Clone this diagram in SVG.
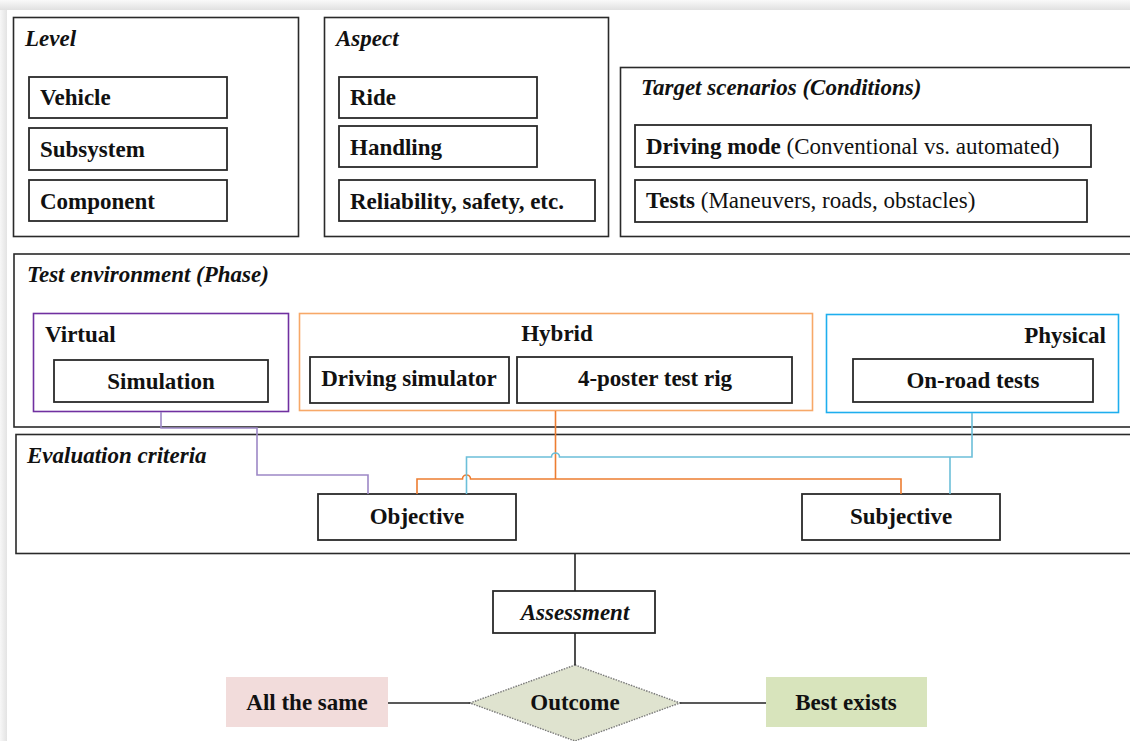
<svg xmlns="http://www.w3.org/2000/svg" width="1130" height="741" viewBox="0 0 1130 741">
<defs>
<linearGradient id="gTop" x1="0" y1="0" x2="0" y2="1"><stop offset="0" stop-color="#fafafa"/><stop offset="1" stop-color="#e1e1e1"/></linearGradient>
<linearGradient id="gLeft" x1="0" y1="0" x2="1" y2="0"><stop offset="0" stop-color="#f7f7f7"/><stop offset="1" stop-color="#e3e3e3"/></linearGradient>
</defs>
<style>
text{font-family:"Liberation Serif","Times New Roman",serif;font-size:23px;font-weight:bold;fill:#111}
.i{font-style:italic}
.n{font-weight:normal}
.m{text-anchor:middle}
.e{text-anchor:end}
.outer{fill:none;stroke:#2a2a2a;stroke-width:1.6}
.box{fill:#fff;stroke:#2a2a2a;stroke-width:1.8}
.con{fill:none;stroke-width:1.6}
.pu{stroke:#9d88c6}
.or{stroke:#ed7d31}
.bl{stroke:#6cbfd9}
.bk{stroke:#222}
</style>
<rect width="1130" height="741" fill="#fff"/>
<rect x="0" y="0" width="1130" height="10" fill="url(#gTop)"/>
<rect x="0" y="10" width="7" height="731" fill="url(#gLeft)"/>

<g id="level">
<rect class="outer" x="13.5" y="17.5" width="285" height="219"/>
<text class="i" x="25" y="46">Level</text>
</g>
<g id="vehicle"><rect class="box" x="29" y="77" width="198" height="41"/><text x="40" y="105">Vehicle</text></g>
<g id="subsystem"><rect class="box" x="29" y="128" width="198" height="42"/><text x="40" y="157">Subsystem</text></g>
<g id="component"><rect class="box" x="29" y="180" width="198" height="41"/><text x="40" y="209">Component</text></g>

<g id="aspect">
<rect class="outer" x="324.5" y="17.5" width="284" height="219"/>
<text class="i" x="336" y="46">Aspect</text>
</g>
<g id="ride"><rect class="box" x="339" y="77" width="198" height="41"/><text x="350" y="105">Ride</text></g>
<g id="handling"><rect class="box" x="339" y="126" width="198" height="41"/><text x="350" y="155">Handling</text></g>
<g id="reliability"><rect class="box" x="339" y="180" width="256" height="41"/><text x="350" y="209">Reliability, safety, etc.</text></g>

<g id="target">
<rect class="outer" x="620.5" y="67.5" width="515" height="169"/>
<text class="i" x="641" y="95">Target scenarios (Conditions)</text>
</g>
<g id="drivingmode"><rect class="box" x="635" y="125" width="456" height="42"/><text x="646" y="154">Driving mode<tspan class="n"> (Conventional vs. automated)</tspan></text></g>
<g id="tests"><rect class="box" x="635" y="180" width="452" height="42"/><text x="646" y="208">Tests<tspan class="n"> (Maneuvers, roads, obstacles)</tspan></text></g>

<g id="testenv">
<rect class="outer" x="14" y="254" width="1122" height="173"/>
<text class="i" x="27" y="282">Test environment (Phase)</text>
</g>
<g id="virtual">
<rect x="33.5" y="313.5" width="255" height="98" fill="none" stroke="#7030a0" stroke-width="1.6"/>
<text x="45" y="342">Virtual</text>
</g>
<g id="simulation"><rect class="box" x="54" y="360" width="214" height="42"/><text class="m" x="161" y="389">Simulation</text></g>
<g id="hybrid">
<rect x="299.5" y="313.5" width="513" height="97" fill="none" stroke="#f7a868" stroke-width="1.6"/>
<text class="m" x="557" y="341">Hybrid</text>
</g>
<g id="drivingsim"><rect class="box" x="310" y="357" width="199" height="46"/><text class="m" x="409" y="386">Driving simulator</text></g>
<g id="fourposter"><rect class="box" x="517" y="357" width="275" height="46"/><text class="m" x="655" y="386">4-poster test rig</text></g>
<g id="physical">
<rect x="826.5" y="314.5" width="292" height="98" fill="none" stroke="#1eaeee" stroke-width="1.6"/>
<text class="e" x="1106" y="343">Physical</text>
</g>
<g id="onroad"><rect class="box" x="853" y="359" width="240" height="43"/><text class="m" x="973" y="388">On-road tests</text></g>

<g id="evaluation">
<rect class="outer" x="16" y="434.5" width="1120" height="119"/>
<text class="i" x="27" y="463">Evaluation criteria</text>
</g>
<g id="objective"><rect class="box" x="318" y="494" width="198" height="46"/><text class="m" x="417" y="524">Objective</text></g>
<g id="subjective"><rect class="box" x="802" y="494" width="198" height="46"/><text class="m" x="901" y="524">Subjective</text></g>

<g id="assessment"><rect class="box" x="493" y="591" width="162" height="42"/><text class="i m" x="575" y="620">Assessment</text></g>
<g id="outcome"><polygon points="575,665 680,703 575,741 470,703" fill="#dfe3cf" stroke="#7a7a7a" stroke-width="1.4" stroke-dasharray="1.5,1.2"/><text class="m" x="575" y="710">Outcome</text></g>
<g id="allsame"><rect x="226" y="677" width="162" height="50" fill="#f2dcdb"/><text class="m" x="307" y="710">All the same</text></g>
<g id="bestexists"><rect x="766" y="677" width="161" height="50" fill="#d8e4bc"/><text class="m" x="846" y="710">Best exists</text></g>

<g id="connectors">
<path class="con pu" d="M161,412 V428 H257 V475 H368 V494"/>
<path class="con or" d="M555.5,411 V479"/>
<path class="con or" d="M417,494 V479 H462.5 A4,4 0 0 1 470.5,479 H901 V494"/>
<path class="con bl" d="M972,413 V457 H559.5 A4,4 0 0 0 551.5,457 H466.5 V494"/>
<path class="con bl" d="M950,457 V494"/>
<path class="con bk" d="M575,554 V591"/>
<path class="con bk" d="M575,633 V665"/>
<path class="con bk" d="M388,703 H470"/>
<path class="con bk" d="M680,703 H766"/>
</g>
</svg>
